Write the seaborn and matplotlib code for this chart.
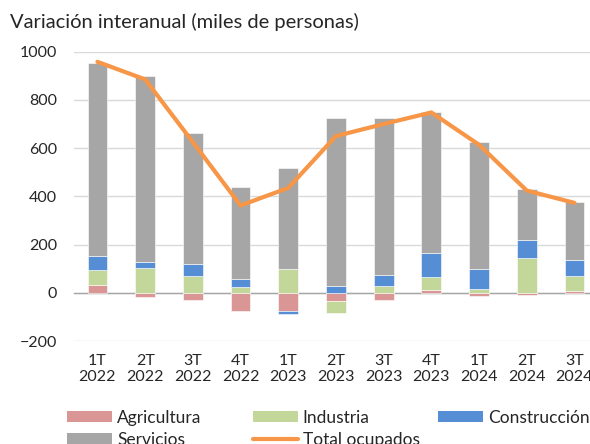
import matplotlib

matplotlib.use("agg")
import matplotlib.pyplot as plt
import numpy as np
import pandas as pd
import seaborn as sns
from matplotlib.lines import Line2D
from matplotlib.patches import Patch

# Data (miles de personas)
trimestres = ["1T\n2022", "2T\n2022", "3T\n2022", "4T\n2022",
              "1T\n2023", "2T\n2023", "3T\n2023", "4T\n2023",
              "1T\n2024", "2T\n2024", "3T\n2024"]
agricultura = [33, -17, -30, -76, -76, -35, -30, 12, -12, -8, 7]
industria = [60, 102, 70, 23, 98, -47, 29, 53, 15, 144, 64]
construccion = [60, 25, 51, 33, -10, 29, 46, 99, 84, 75, 65]
servicios = [802, 772, 542, 381, 419, 697, 651, 586, 526, 212, 239]
total_ocupados = [958, 885, 625, 362, 435, 650, 700, 748, 614, 424, 373]

sectores = ["Agricultura", "Industria", "Construcción", "Servicios"]
colores = ["#da9694", "#c4d79b", "#558ed5", "#a6a6a6"]
color_total = "#f79646"

df = pd.DataFrame({
    "trimestre": trimestres,
    "Agricultura": agricultura,
    "Industria": industria,
    "Construcción": construccion,
    "Servicios": servicios,
    "Total ocupados": total_ocupados,
})
df["pos"] = np.arange(len(df))

sns.set_theme(style="white")
plt.rcParams["font.family"] = ["Lato", "DejaVu Sans"]
FS = 11.5
TXT = "#262626"

W, H = 590, 444
fig = plt.figure(figsize=(W / 100, H / 100), dpi=100)
ax = fig.add_axes([73.6 / W, 1 - 341 / H, 524.7 / W, (341 - 51.7) / H])

# Stacked bars, positives up from zero and negatives down from zero
pos_base = np.zeros(len(df))
neg_base = np.zeros(len(df))
for sector, color in zip(sectores, colores):
    vals = df[sector].to_numpy(dtype=float)
    bottoms = np.where(vals >= 0, pos_base, neg_base)
    ax.bar(df["pos"], vals, bottom=bottoms, width=0.413, color=color,
           edgecolor="white", linewidth=0.4, zorder=2)
    pos_base = pos_base + np.clip(vals, 0, None)
    neg_base = neg_base + np.clip(vals, None, 0)

sns.lineplot(data=df, x="pos", y="Total ocupados", color=color_total,
             linewidth=3, ax=ax, zorder=3)

ax.set_xlim(-0.5, len(df) - 0.5)
ax.set_ylim(-200, 1000)
ax.set_yticks(range(-200, 1001, 200))
ax.grid(axis="y", color="#d9d9d9", linewidth=1.0, zorder=0)
ax.grid(axis="x", visible=False)
for side in ["left", "right", "top"]:
    ax.spines[side].set_visible(False)
ax.spines["bottom"].set_position(("data", 0))
ax.spines["bottom"].set_color("#a6a6a6")
ax.spines["bottom"].set_linewidth(1.0)
ax.spines["bottom"].set_zorder(1)

ax.set_xticks(df["pos"], df["trimestre"])
ax.set_xticks([-0.5, 3.5, 7.5], minor=True)
ax.tick_params(axis="x", which="major", length=0, pad=44, labelsize=FS, colors=TXT)
ax.tick_params(axis="x", which="minor", length=4, width=1.0, color="#a6a6a6", direction="out")
ax.tick_params(axis="y", length=0, pad=12, labelsize=FS, colors=TXT)
ax.set_xlabel("")
ax.set_ylabel("")

fig.text(10 / W, 1 - 28 / H, "Variación interanual (miles de personas)",
         fontsize=14.5, color=TXT, va="baseline", ha="left")

# Legend laid out in an Excel-like grid
handles = [Patch(facecolor=c, edgecolor="none") for c in colores]
handles.append(Line2D([], [], color=color_total, linewidth=3))
labels = sectores + ["Total ocupados"]
for i, (h, lab) in enumerate(zip(handles, labels)):
    row, col = divmod(i, 3)
    fig.legend([h], [lab], loc="center left", frameon=False,
               bbox_to_anchor=((67 + col * 185.5) / W, 1 - (418 + row * 22) / H),
               borderpad=0, borderaxespad=0, handlelength=2.6, handleheight=0.6,
               handletextpad=0.3, fontsize=12.5, labelcolor=TXT)

fig.savefig("out.png", dpi=100)
plt.close("all")
